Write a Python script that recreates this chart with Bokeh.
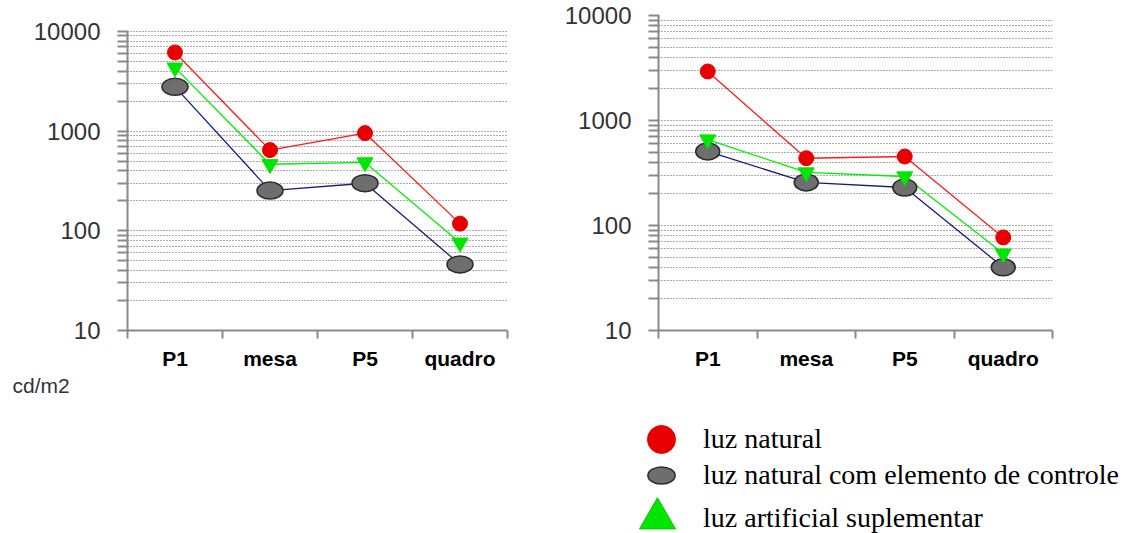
from bokeh.plotting import figure
from bokeh.layouts import row, column
from bokeh.models import (Range1d, FixedTicker, NumeralTickFormatter, Legend,
                          LegendItem, Label, ColumnDataSource)
from bokeh.embed import file_html
from bokeh.resources import INLINE

# ---------------- data ----------------
categories = ["P1", "mesa", "P5", "quadro"]

left_natural = [6150, 645, 955, 118]
left_controle = [2780, 253, 300, 46]
left_artificial = [4330, 465, 485, 76]

right_natural = [2930, 437, 454, 77]
right_controle = [507, 257, 230, 40]
right_artificial = [659, 320, 293, 54]

y_ticks = [10, 100, 1000, 10000]
series_labels = ["luz natural",
                 "luz natural com elemento de controle",
                 "luz artificial suplementar"]
unit_label = "cd/m2"

# ---------------- styles ----------------
RED = "#e80000"
RED_LINE = "#ff1a1a"
GREEN = "#00e600"
GREEN_LINE = "#00f000"
NAVY = "#1a1a80"
GRAY_FILL = "#6e6e6e"
GRAY_EDGE = "#2a2a2a"
AXIS = "#8a8a8a"
GRID = "#5a5a5a"

xs = [i + 0.5 for i in range(len(categories))]
minor_y = [m * 10 ** k for k in range(1, 4) for m in range(2, 10)]
NAN = float("nan")


def make_chart(nat, ctl, art, fw, ytop, bl, br, ell_w, ell_h, xstand):
    p = figure(frame_width=fw, frame_height=315, y_axis_type="log",
               x_range=Range1d(0, len(categories)), y_range=Range1d(10, ytop),
               min_border_left=bl, min_border_top=15, min_border_right=br,
               min_border_bottom=40, toolbar_location=None,
               output_backend="svg")
    p.outline_line_color = None
    p.background_fill_color = "white"
    p.border_fill_color = "white"

    # x axis: labels at category centres, ticks at boundaries
    xa = p.xaxis[0]
    xa.ticker = FixedTicker(ticks=xs, minor_ticks=list(range(len(categories) + 1)))
    xa.major_label_overrides = {x: c for x, c in zip(xs, categories)}
    xa.major_tick_line_color = None
    xa.major_tick_out = 0
    xa.major_tick_in = 0
    xa.minor_tick_out = 8
    xa.minor_tick_in = 0
    xa.minor_tick_line_color = AXIS
    xa.minor_tick_line_width = 2
    xa.axis_line_color = AXIS
    xa.axis_line_width = 2
    xa.major_label_text_font = "Liberation Sans"
    xa.major_label_text_font_style = "bold"
    xa.major_label_text_font_size = "21px"
    xa.major_label_text_color = "black"
    xa.major_label_standoff = xstand
    p.xgrid.grid_line_color = None

    ya = p.yaxis[0]
    ya.ticker = FixedTicker(ticks=y_ticks, minor_ticks=minor_y)
    ya.formatter = NumeralTickFormatter(format="0")
    ya.bounds = (y_ticks[0], y_ticks[-1])
    ya.axis_line_color = AXIS
    ya.axis_line_width = 2
    ya.major_tick_out = 10
    ya.major_tick_in = 1
    ya.minor_tick_out = 10
    ya.minor_tick_in = 1
    ya.major_tick_line_color = AXIS
    ya.minor_tick_line_color = AXIS
    ya.major_tick_line_width = 2
    ya.minor_tick_line_width = 2
    ya.major_label_text_font = "Liberation Sans"
    ya.major_label_text_font_size = "24px"
    ya.major_label_text_color = "#333333"
    ya.major_label_standoff = 17

    g = p.ygrid[0]
    g.grid_line_color = GRID
    g.grid_line_dash = "1 2"
    g.grid_line_width = 1
    g.minor_grid_line_color = GRID
    g.minor_grid_line_dash = "1 2"
    g.minor_grid_line_width = 1

    src = ColumnDataSource(dict(x=xs, nat=nat, ctl=ctl, art=art))
    p.line("x", "ctl", source=src, line_color=NAVY, line_width=1.3)
    p.line("x", "art", source=src, line_color=GREEN_LINE, line_width=1.3)
    p.line("x", "nat", source=src, line_color=RED_LINE, line_width=1.3)
    p.ellipse("x", "ctl", source=src, width=ell_w, height=ell_h,
              width_units="screen", height_units="screen",
              fill_color=GRAY_FILL, line_color=GRAY_EDGE, line_width=1.5)
    p.scatter("x", "art", source=src, marker="inverted_triangle", size=16,
              fill_color=GREEN, line_color=GREEN)
    p.scatter("x", "nat", source=src, marker="circle", size=15,
              fill_color=RED, line_color=RED)
    return p


# left chart: frame 15..330 px, decade ~99.7 px (top of frame above 10000)
p1 = make_chart(left_natural, left_controle, left_artificial,
                380, 10 ** (1 + 315 / 99.7), 127, 51, 26, 17, 8)
# right chart: frame 15..330 px, 10..10000
p2 = make_chart(right_natural, right_controle, right_artificial,
                394, 10000, 100, 79, 24, 17, 8)

# ---------------- bottom strip: unit label + legend ----------------
pb = figure(frame_width=1131, frame_height=163, x_range=Range1d(0, 1),
            y_range=Range1d(0, 1), min_border=0, toolbar_location=None,
            x_axis_location=None, y_axis_location=None, output_backend="svg")
pb.outline_line_color = None
pb.xgrid.grid_line_color = None
pb.ygrid.grid_line_color = None
pb.background_fill_color = "white"
pb.border_fill_color = "white"

pb.add_layout(Label(x=12, y=162, x_units="screen", y_units="screen",
                    text=unit_label, text_baseline="top",
                    text_font="Liberation Sans", text_font_size="21px",
                    text_color="#333333"))

# legend swatches (no data points of their own)
leg_nat = pb.scatter(x=[NAN], y=[NAN], marker="circle", size=28,
                     fill_color=RED, line_color=RED)
leg_ctl = pb.ellipse(x=[NAN], y=[NAN], width=27, height=17,
                     width_units="screen", height_units="screen",
                     fill_color=GRAY_FILL, line_color=GRAY_EDGE, line_width=1.5)
leg_art = pb.scatter(x=[NAN], y=[NAN], marker="triangle", size=36,
                     fill_color=GREEN, line_color="#00c800")


def add_legend(p, label, renderer, loc, gw, gh, standoff):
    lg = Legend(items=[LegendItem(label=label, renderers=[renderer])],
                location=loc, glyph_width=gw, glyph_height=gh,
                label_height=gh, label_standoff=standoff, padding=0, margin=0,
                spacing=0, border_line_color=None, background_fill_alpha=0,
                label_text_font="Liberation Serif", label_text_font_size="28px",
                label_text_color="black")
    p.add_layout(lg)


add_legend(pb, series_labels[0], leg_nat, (626, 61), 70, 70, 7)
add_legend(pb, series_labels[1], leg_ctl, (644, 40), 34, 40, 25)
add_legend(pb, series_labels[2], leg_art, (612, -28), 90, 90, 1)

layout = column(row(p1, p2), pb)
open("out.html", "w").write(file_html(layout, INLINE))
